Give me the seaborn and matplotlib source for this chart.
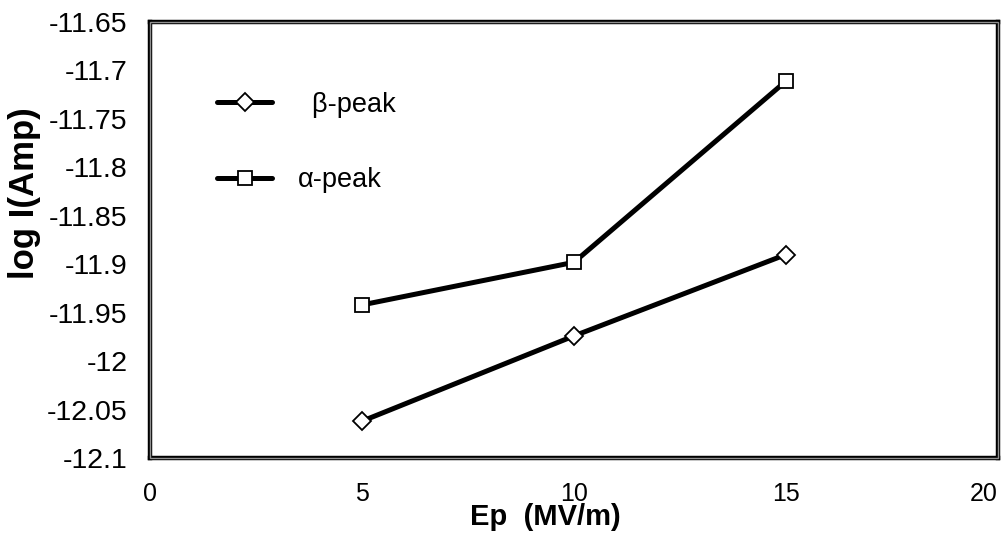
import matplotlib
matplotlib.use('Agg')
import matplotlib.pyplot as plt
import seaborn as sns
import pandas as pd
from matplotlib.patches import Rectangle

# values
ep = [5, 10, 15]
beta_peak = [-12.062, -11.974, -11.890]
alpha_peak = [-11.942, -11.898, -11.711]
y_ticks = [-11.65, -11.7, -11.75, -11.8, -11.85, -11.9, -11.95, -12, -12.05, -12.1]
x_ticks = [0, 5, 10, 15, 20]

sns.set_style("white")
plt.rcParams['font.family'] = ['Liberation Sans', 'DejaVu Sans']
plt.rcParams['text.color'] = 'black'
plt.rcParams['xtick.color'] = 'black'
plt.rcParams['ytick.color'] = 'black'
plt.rcParams['axes.labelcolor'] = 'black'

fig = plt.figure(figsize=(10.07, 5.42), dpi=100)
ax = fig.add_axes([150 / 1007, 1 - 458 / 542, 848 / 1007, 436 / 542])

df_b = pd.DataFrame({'Ep': ep, 'logI': beta_peak})
df_a = pd.DataFrame({'Ep': ep, 'logI': alpha_peak})

sns.lineplot(data=df_b, x='Ep', y='logI', ax=ax, color='black', lw=3.6,
             marker='D', markersize=9, markerfacecolor='white',
             markeredgecolor='black', markeredgewidth=1.3, label='  β-peak')
sns.lineplot(data=df_a, x='Ep', y='logI', ax=ax, color='black', lw=3.6,
             marker='s', markersize=10, markerfacecolor='white',
             markeredgecolor='black', markeredgewidth=1.3, label='α-peak')

ax.set_xlim(0, 20)
ax.set_ylim(-12.1, -11.65)
ax.set_xticks(x_ticks)
ax.set_xticklabels([str(v) for v in x_ticks])
ax.set_yticks(y_ticks)
ax.set_yticklabels([f'{v:g}' for v in y_ticks])
ax.tick_params(axis='both', length=0)
ax.tick_params(axis='x', pad=17, labelsize=18)
ax.tick_params(axis='y', pad=16, labelsize=20.5)
# last x label sits inside the picture, like the original
ax.get_xticklabels()[-1].set_ha('right')

ax.set_xlabel('Ep  (MV/m)', fontsize=21, fontweight='bold')
ax.xaxis.set_label_coords(0.466, -0.104)
ax.set_ylabel('log I(Amp)', fontsize=25, fontweight='bold')
ax.yaxis.set_label_coords(-0.128, 0.608)

# double frame with shadow, Excel style
for s in ax.spines.values():
    s.set_color('black')
    s.set_linewidth(3.2)
ax.add_patch(Rectangle((0, 0), 1, 1, transform=ax.transAxes, fill=False,
                       edgecolor='#909090', lw=1.0, zorder=5, clip_on=False))

leg = ax.legend(loc='upper left', bbox_to_anchor=(0.079, 0.840), frameon=False,
                fontsize=19.5, handlelength=2.04, handletextpad=0.93,
                labelspacing=1.82, borderpad=0, borderaxespad=0)

fig.savefig('out.png', dpi=100)
